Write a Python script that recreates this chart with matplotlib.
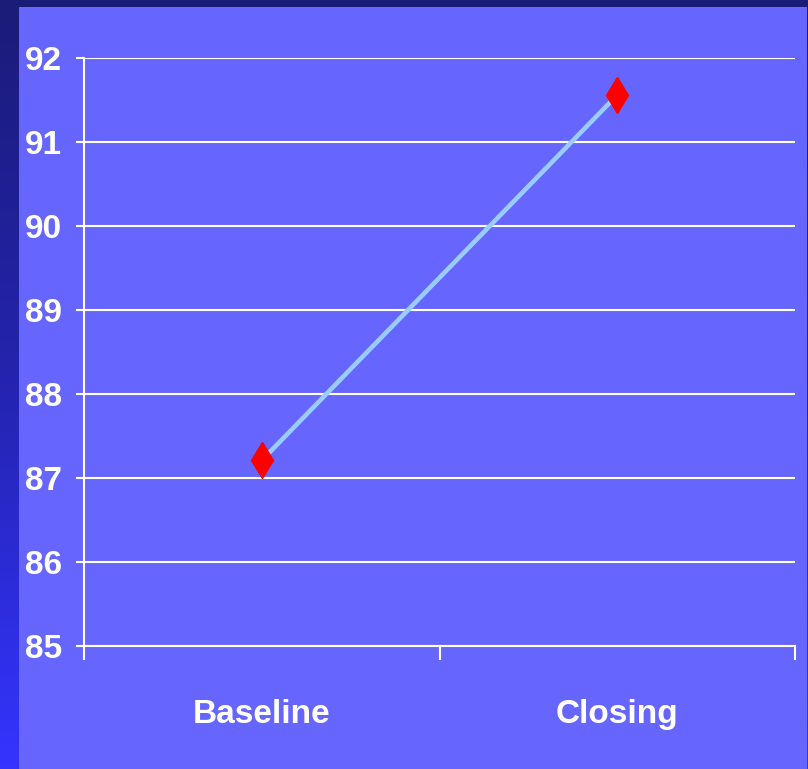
import numpy as np
import matplotlib.pyplot as plt
from matplotlib.patches import Rectangle
from matplotlib.colors import LinearSegmentedColormap

categories = ['Baseline', 'Closing']
values = [87.21, 91.56]
y_ticks = [85, 86, 87, 88, 89, 90, 91, 92]

W, H = 808, 769
fig = plt.figure(figsize=(W / 100, H / 100), dpi=100)

# dark gradient behind the slide panel
bg = fig.add_axes([0, 0, 1, 1], zorder=-10)
grad = np.linspace(0, 1, 256).reshape(-1, 1)
cmap_bg = LinearSegmentedColormap.from_list('bg', ['#1b1b78', '#2424b0', '#3434ff'])
bg.imshow(grad, aspect='auto', cmap=cmap_bg, extent=[0, 1, 0, 1], origin='upper')
bg.set_axis_off()

# lighter panel holding the chart
bg.add_patch(Rectangle((19 / W, 0), (807 - 19) / W, (H - 7) / H,
                       facecolor='#6666ff', edgecolor='none', transform=bg.transAxes))

ax = fig.add_axes([84 / W, (H - 646) / H, (795 - 84) / W, (646 - 58) / H])
ax.set_facecolor('none')

x = np.arange(len(categories))
ax.plot(x, values, color='#99ccff', lw=3.3, zorder=3)
ax.plot(x, values, ls='none', marker='d', ms=18, color='#ff0000', mec='#ff0000', zorder=4)

ax.set_xlim(-0.5, 1.5)
ax.set_ylim(85, 92)
ax.set_yticks(y_ticks)
ax.yaxis.grid(True, color='white', lw=1.5)
ax.set_axisbelow(True)

for side in ('top', 'right'):
    ax.spines[side].set_visible(False)
for side in ('left', 'bottom'):
    ax.spines[side].set_color('white')
    ax.spines[side].set_linewidth(1.5)

font = ['Liberation Sans Narrow', 'Liberation Sans', 'DejaVu Sans']
ax.set_xticks(x)
ax.set_xticklabels(categories)
ax.set_xticks([-0.5, 0.5, 1.5], minor=True)
ax.tick_params(axis='x', which='major', length=0, pad=38)
ax.tick_params(axis='x', which='minor', length=10, width=1.5, color='white', direction='out')
ax.tick_params(axis='y', length=6, width=1.5, color='white', pad=10)

for lab in ax.get_xticklabels() + ax.get_yticklabels():
    lab.set_family(font)
    lab.set_fontweight('bold')
    lab.set_color('white')
    lab.set_fontsize(24)

fig.savefig('out.png', dpi=100)
